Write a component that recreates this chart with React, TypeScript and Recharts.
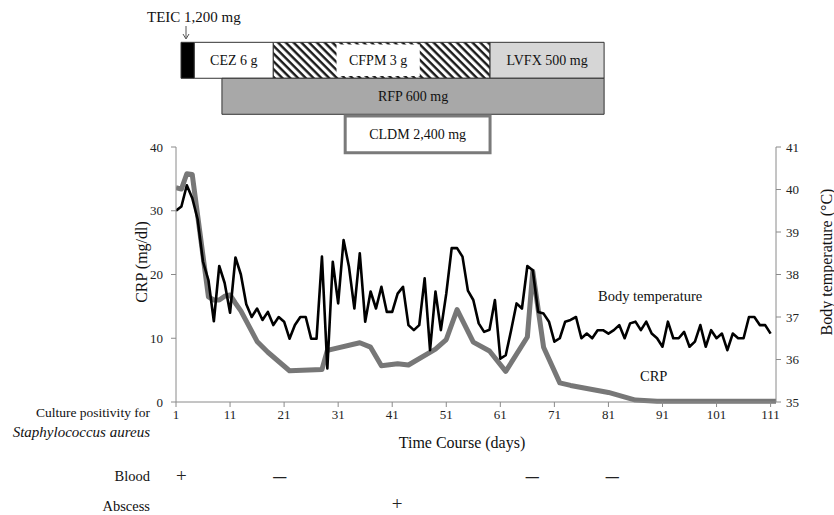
import React from 'react';
import { LineChart, Line, XAxis, YAxis, ReferenceArea, ReferenceDot } from 'recharts';

// ---- data ----
const temperature = [
  39.5, 39.6, 40.1, 39.8, 39.3, 38.3, 37.87, 36.9, 38.2, 37.8,
  37.1, 38.4, 38.0, 37.3, 37.0, 37.2, 36.93, 37.12, 36.81, 37.0,
  36.89, 36.49, 36.81, 37.0, 37.0, 36.49, 36.49, 38.42, 35.79, 38.3,
  37.32, 38.81, 38.18, 37.2, 38.5, 36.89, 37.6, 37.2, 37.71, 37.12,
  37.12, 37.55, 37.71, 36.81, 36.69, 36.81, 37.91, 36.22, 37.6, 36.69,
  37.55, 38.62, 38.62, 38.42, 37.62, 37.4, 36.85, 36.65, 36.7, 37.4,
  36.02, 36.1, 36.69, 37.32, 37.2, 38.2, 38.1, 37.12, 37.08, 36.89,
  36.42, 36.5, 36.89, 36.93, 37.0, 36.5, 36.61, 36.5, 36.69, 36.69,
  36.61, 36.69, 36.81, 36.5, 36.85, 36.89, 36.69, 36.89, 36.61, 36.5,
  36.3, 36.89, 36.5, 36.5, 36.65, 36.3, 36.42, 36.81, 36.3, 36.69,
  36.5, 36.61, 36.22, 36.61, 36.5, 36.5, 37.0, 37.0, 36.81, 36.81,
  36.61,
];

const crpDays = [1, 2, 3, 4, 7, 8, 9, 10, 11, 12, 13, 16, 18, 22, 28, 29, 35, 37, 39, 42, 44, 49, 51, 53, 56, 59, 62, 66, 67, 69, 72, 74, 79, 81, 86, 90, 112];
const crpValues = [33.6, 33.4, 35.8, 35.7, 16.5, 16.0, 16.0, 16.6, 16.8, 15.5, 14.3, 9.5, 7.8, 4.9, 5.1, 8.1, 9.3, 8.6, 5.7, 6.0, 5.8, 8.3, 9.8, 14.5, 9.4, 8.0, 4.8, 10.2, 20.5, 8.6, 3.0, 2.6, 1.8, 1.5, 0.3, 0.1, 0.1];

const xTicks = [1, 11, 21, 31, 41, 51, 61, 71, 81, 91, 101, 111];
const crpTicks = [0, 10, 20, 30, 40];
const tempTicks = [35, 36, 37, 38, 39, 40, 41];

const drugNames = ['TEIC', 'CEZ 6 g', 'CFPM 3 g', 'LVFX 500 mg', 'RFP 600 mg', 'CLDM 2,400 mg'];
const drugStart = [1.93, 4.39, 19.0, 59.1, 9.5, 32.3];
const drugEnd = [4.39, 19.0, 59.1, 80.2, 80.2, 59.1];

const bloodDays = [2, 20.2, 66.9, 81.7];
const bloodResults = ['+', '\u2013', '\u2013', '\u2013'];
const abscessDays = [41.9];
const abscessResults = ['+'];

// ---- build table ----
const rowMap: Record<number, any> = {};
temperature.forEach((t, i) => {
  rowMap[i + 1] = { day: i + 1, temp: t, crp: null };
});
crpDays.forEach((d, k) => {
  if (!rowMap[d]) rowMap[d] = { day: d, temp: null, crp: null };
  rowMap[d].crp = crpValues[k];
});
const rows = Object.keys(rowMap)
  .map((k) => rowMap[Number(k)])
  .sort((a, b) => a.day - b.day);

const FONT = '"Liberation Serif", "Times New Roman", serif';

// layout (left-axis units) for the treatment rows
const ROWS = [
  [56.42, 50.78],
  [50.78, 45.13],
  [44.86, 39.1],
];
const drugStyle: Record<string, any> = {
  TEIC: { row: 0, fill: '#000', stroke: '#333', sw: 1, label: false },
  'CEZ 6 g': { row: 0, fill: '#fff', stroke: '#333', sw: 1, label: true },
  'CFPM 3 g': { row: 0, fill: 'url(#hatch)', stroke: '#333', sw: 1, label: false },
  'LVFX 500 mg': { row: 0, fill: '#d6d6d6', stroke: '#333', sw: 1, label: true },
  'RFP 600 mg': { row: 1, fill: '#a8a8a8', stroke: '#333', sw: 1, label: true },
  'CLDM 2,400 mg': { row: 2, fill: '#fff', stroke: '#7a7a7a', sw: 3, label: true },
};

const BLOOD_Y = -11.6;
const ABSCESS_Y = -15.9;

const signShape = (sym: string) => (p: any) => (
  <text
    x={p.cx}
    y={p.cy}
    textAnchor="middle"
    dominantBaseline="central"
    fontSize={sym === '+' ? 19 : 26}
    fontFamily={FONT}
    fill="#222"
  >
    {sym}
  </text>
);

export default function App() {
  const tickStyle = { fontSize: 13, fill: '#222', fontFamily: FONT };
  const axisColor = '#8a8a8a';
  return (
    <div style={{ position: 'absolute', left: 0, top: 0, width: 834, height: 515, background: '#fff', fontFamily: FONT }}>
      <svg width={0} height={0} style={{ position: 'absolute' }}>
        <defs>
          <pattern id="hatch" patternUnits="userSpaceOnUse" width="5.5" height="5.5" patternTransform="rotate(-45)">
            <rect width="5.5" height="5.5" fill="#fff" />
            <line x1="1.5" y1="0" x2="1.5" y2="5.5" stroke="#111" strokeWidth="2.3" />
          </pattern>
        </defs>
      </svg>
      <LineChart width={834} height={515} data={rows} margin={{ top: 147, right: 0, bottom: 83, left: 116 }}>
        <XAxis
          type="number"
          dataKey="day"
          domain={[1, 112]}
          ticks={xTicks}
          interval={0}
          height={30}
          tickSize={5}
          tickMargin={3}
          tick={tickStyle}
          stroke={axisColor}
          allowDataOverflow
        />
        <YAxis
          yAxisId="left"
          domain={[0, 40]}
          ticks={crpTicks}
          width={60}
          tickSize={5}
          tickMargin={8}
          tick={tickStyle}
          stroke={axisColor}
        />
        <YAxis
          yAxisId="right"
          orientation="right"
          domain={[35, 41]}
          ticks={tempTicks}
          width={58}
          tickSize={5}
          tickMargin={5}
          tick={tickStyle}
          stroke={axisColor}
        />
        {drugNames.map((name, i) => {
          const s = drugStyle[name];
          return (
            <ReferenceArea
              key={name}
              yAxisId="left"
              x1={drugStart[i]}
              x2={drugEnd[i]}
              y1={ROWS[s.row][1]}
              y2={ROWS[s.row][0]}
              ifOverflow="visible"
              fill={s.fill}
              fillOpacity={1}
              stroke={s.stroke}
              strokeWidth={s.sw}
              label={s.label ? { value: name, position: 'center', fill: '#111', fontSize: 14, fontFamily: FONT } : undefined}
            />
          );
        })}
        <ReferenceArea
          yAxisId="left"
          x1={30.7}
          x2={46.1}
          y1={ROWS[0][1] + 0.35}
          y2={ROWS[0][0] - 0.35}
          ifOverflow="visible"
          fill="#fff"
          fillOpacity={1}
          stroke="none"
          label={{ value: drugNames[2], position: 'center', fill: '#111', fontSize: 14, fontFamily: FONT }}
        />
        {bloodDays.map((d, i) => (
          <ReferenceDot key={'b' + i} yAxisId="left" x={d} y={BLOOD_Y} r={0} ifOverflow="visible" shape={signShape(bloodResults[i])} />
        ))}
        {abscessDays.map((d, i) => (
          <ReferenceDot key={'a' + i} yAxisId="left" x={d} y={ABSCESS_Y} r={0} ifOverflow="visible" shape={signShape(abscessResults[i])} />
        ))}
        <Line
          yAxisId="left"
          type="linear"
          dataKey="crp"
          stroke="#777"
          strokeWidth={5}
          dot={false}
          connectNulls
          isAnimationActive={false}
          strokeLinejoin="round"
        />
        <Line
          yAxisId="right"
          type="linear"
          dataKey="temp"
          stroke="#000"
          strokeWidth={2.6}
          dot={false}
          connectNulls
          isAnimationActive={false}
          strokeLinejoin="round"
        />
      </LineChart>
      <svg
        width={834}
        height={515}
        style={{ position: 'absolute', left: 0, top: 0, pointerEvents: 'none' }}
        fontFamily={FONT}
        fill="#111"
      >
        <text x={147} y={22} fontSize={15}>TEIC 1,200 mg</text>
        <line x1={186} y1={26} x2={186} y2={38} stroke="#555" strokeWidth={1} />
        <path d="M183,34 L186,39 L189,34" fill="none" stroke="#555" strokeWidth={1} />
        <text x={141} y={262} fontSize={16} textAnchor="middle" dominantBaseline="central" transform="rotate(-90 141 262)">
          CRP (mg/dl)
        </text>
        <text x={826} y={262} fontSize={16} textAnchor="middle" dominantBaseline="central" transform="rotate(-90 826 262)">
          Body temperature (°C)
        </text>
        <text x={462} y={448} fontSize={16} textAnchor="middle">Time Course (days)</text>
        <text x={150} y={417} fontSize={13.5} textAnchor="end">Culture positivity for</text>
        <text x={150} y={437} fontSize={15} textAnchor="end" fontStyle="italic">Staphylococcus aureus</text>
        <text x={150} y={481} fontSize={14.5} textAnchor="end">Blood</text>
        <text x={150} y={511} fontSize={14.5} textAnchor="end">Abscess</text>
        <text x={598} y={301} fontSize={14.5}>Body temperature</text>
        <text x={640} y={381} fontSize={14.5}>CRP</text>
      </svg>
    </div>
  );
}
